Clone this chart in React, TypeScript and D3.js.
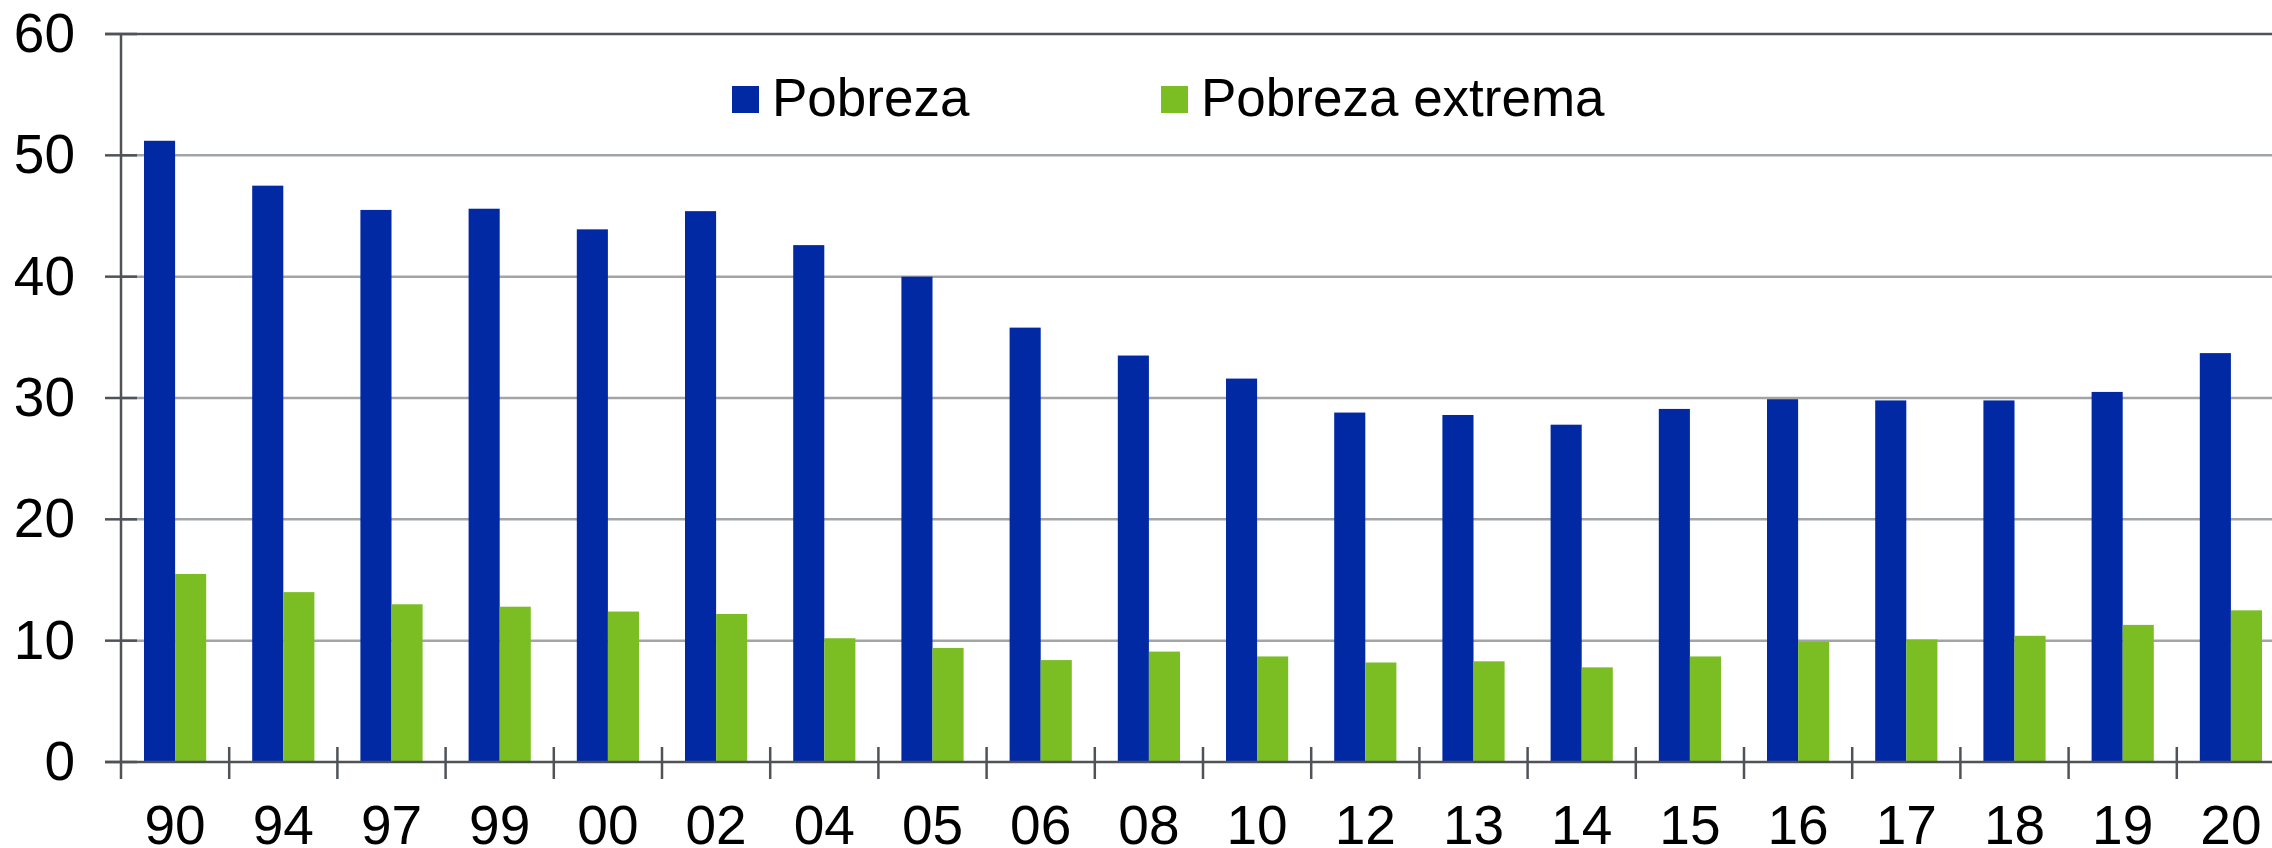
import React from "react";
import * as d3 from "d3";

const years = ["90", "94", "97", "99", "00", "02", "04", "05", "06", "08", "10", "12", "13", "14", "15", "16", "17", "18", "19", "20"];
const pobreza = [51.2, 47.5, 45.5, 45.6, 43.9, 45.4, 42.6, 40.0, 35.8, 33.5, 31.6, 28.8, 28.6, 27.8, 29.1, 29.9, 29.8, 29.8, 30.5, 33.7];
const extrema = [15.5, 14.0, 13.0, 12.8, 12.4, 12.2, 10.2, 9.4, 8.4, 9.1, 8.7, 8.2, 8.3, 7.8, 8.7, 9.9, 10.1, 10.4, 11.3, 12.5];
const seriesNames = ["Pobreza", "Pobreza extrema"];
const seriesColors = ["#0029a3", "#7bbe23"];
const yTicks = [0, 10, 20, 30, 40, 50, 60];

const W = 2272;
const H = 848;
const left = 121;
const right = 2285;
const top = 34;
const bottom = 762;
const font = "'Liberation Sans', Arial, sans-serif";
const dark = "#4f5358";
const grid = "#a2a5a8";

export default function App() {
  const x = d3.scaleBand<string>().domain(years).range([left, right]).padding(0);
  const bw = x.bandwidth();
  const x1 = d3.scaleBand<string>().domain(seriesNames).range([bw * 0.2126, bw * 0.7874]).padding(0);
  const y = d3.scaleLinear().domain([0, 60]).range([bottom, top]);
  const data = [pobreza, extrema];

  return (
    <div style={{ position: "absolute", left: 0, top: 0 }}>
      <svg width={W} height={H} style={{ display: "block", background: "#fff" }} fontFamily={font}>
        {/* gridlines */}
        {yTicks.filter(t => t > 0 && t < 60).map(t => (
          <line key={"g" + t} x1={left} x2={W} y1={y(t)} y2={y(t)} stroke={grid} strokeWidth={2.5} />
        ))}
        {/* bars */}
        {data.map((vals, s) =>
          vals.map((v, i) => (
            <rect
              key={s + "-" + i}
              x={(x(years[i]) as number) + (x1(seriesNames[s]) as number)}
              y={y(v)}
              width={x1.bandwidth()}
              height={y(0) - y(v)}
              fill={seriesColors[s]}
            />
          ))
        )}
        {/* top line */}
        <line x1={105} x2={W} y1={y(60)} y2={y(60)} stroke={dark} strokeWidth={2.5} />
        {/* y axis */}
        <line x1={left} x2={left} y1={top} y2={779} stroke={dark} strokeWidth={2.5} />
        {yTicks.map(t => (
          <g key={"y" + t}>
            <line x1={105} x2={137} y1={y(t)} y2={y(t)} stroke={dark} strokeWidth={2.5} />
            <text x={75} y={y(t) + 18} textAnchor="end" fontSize={55} fill="#000">
              {t}
            </text>
          </g>
        ))}
        {/* x axis */}
        <line x1={105} x2={W} y1={y(0)} y2={y(0)} stroke={dark} strokeWidth={2.5} />
        {years.map((yr, i) => (
          <g key={"x" + yr + i}>
            {i > 0 && (
              <line x1={x(yr)} x2={x(yr)} y1={747} y2={779} stroke={dark} strokeWidth={2.5} />
            )}
            <text x={(x(yr) as number) + bw / 2} y={844} textAnchor="middle" fontSize={55} fill="#000">
              {yr}
            </text>
          </g>
        ))}
        {/* legend */}
        {seriesNames.map((name, s) => {
          const lx = s === 0 ? 732 : 1161;
          return (
            <g key={"l" + s}>
              <rect x={lx} y={86} width={27} height={27} fill={seriesColors[s]} />
              <text x={lx + 40} y={116} fontSize={53} fill="#000">
                {name}
              </text>
            </g>
          );
        })}
      </svg>
    </div>
  );
}
